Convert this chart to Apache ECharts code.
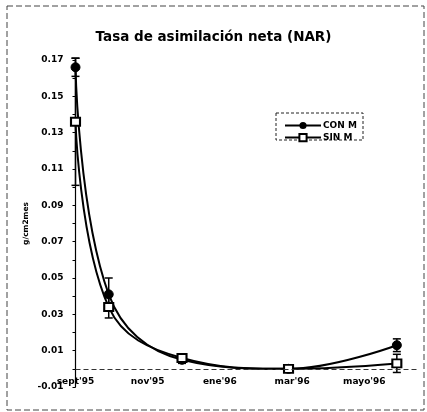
<!DOCTYPE html>
<html>
<head>
<meta charset="utf-8">
<script src="https://cdn.jsdelivr.net/npm/echarts@6/dist/echarts.min.js"></script>
<style>html,body{margin:0;padding:0;background:#fff}#c{width:427px;height:412px}</style>
</head>
<body>
<div id="c"></div>
<script>
// months since sept'95
const months = [0, 0.92, 2.95, 5.9, 8.9];
const conM = [0.166, 0.041, 0.005, 0.0, 0.013];
const conErr = [0.005, 0.009, 0.002, 0.001, 0.0035];
const sinM = [0.136, 0.034, 0.006, 0.0, 0.003];
const sinErr = [0.035, 0.006, 0.002, 0.001, 0.005];
const xTickLabels = {0: "sept'95", 2: "nov'95", 4: "ene'96", 6: "mar'96", 8: "mayo'96"};

const FONT = 'DejaVu Sans, Liberation Sans, Arial, sans-serif';
const chart = echarts.init(document.getElementById('c'), null, {renderer: 'canvas'});

function errSeries(vals, errs, name) {
  return {
    type: 'custom',
    name: name + ' err',
    z: 1,
    data: months.map((m, i) => [m, vals[i] - errs[i], vals[i] + errs[i]]),
    renderItem: function (params, api) {
      const x = api.value(0);
      const lo = api.coord([x, api.value(1)]);
      const hi = api.coord([x, api.value(2)]);
      const w = 4;
      const st = {stroke: '#000', lineWidth: 1.5};
      return {type: 'group', children: [
        {type: 'line', shape: {x1: lo[0], y1: lo[1], x2: hi[0], y2: hi[1]}, style: st},
        {type: 'line', shape: {x1: lo[0] - w, y1: lo[1], x2: lo[0] + w, y2: lo[1]}, style: st},
        {type: 'line', shape: {x1: hi[0] - w, y1: hi[1], x2: hi[0] + w, y2: hi[1]}, style: st}
      ]};
    },
    tooltip: {show: false}
  };
}

chart.setOption({
  animation: false,
  title: {
    text: 'Tasa de asimilación neta (NAR)',
    left: 'center', top: 25,
    textStyle: {fontFamily: FONT, fontSize: 13.5, fontWeight: 'bold', color: '#000'}
  },
  legend: {
    orient: 'vertical', left: 279, top: 116,
    itemWidth: 36, itemHeight: 9, itemGap: 3,
    data: ['CON M', 'SIN M'],
    textStyle: {fontFamily: FONT, fontSize: 9, fontWeight: 'bold', color: '#000', padding: [0,0,0,-3]}
  },
  graphic: [
    {type: 'rect', shape: {x: 7, y: 6, width: 417, height: 404}, style: {fill: 'none', stroke: '#444', lineWidth: 1, lineDash: [6, 3]}, silent: true},
    {type: 'rect', shape: {x: 276, y: 113, width: 87, height: 27}, style: {fill: 'none', stroke: '#222', lineWidth: 1, lineDash: [3, 2]}, silent: true}
  ],
  grid: {left: 75.5, right: 8.5, top: 60, bottom: 25, containLabel: false},
  xAxis: {
    type: 'value', min: 0, max: 9.5, interval: 2,
    splitLine: {show: false},
    axisTick: {show: false},
    axisLine: {show: false, onZero: false},
    axisLabel: {
      margin: -10, fontFamily: FONT, fontSize: 9, fontWeight: 'bold', color: '#000',
      formatter: v => xTickLabels[v] || '', showMaxLabel: false
    }
  },
  yAxis: {
    type: 'value', min: -0.01, max: 0.17, interval: 0.01,
    name: 'g/cm2mes', nameLocation: 'middle', nameGap: 45, nameRotate: 90,
    nameMoveOverlap: false,
    nameTextStyle: {fontFamily: FONT, fontSize: 7.5, fontWeight: 'bold', color: '#000'},
    splitLine: {show: false},
    axisLine: {show: true, lineStyle: {color: '#000', width: 1.2}},
    axisTick: {show: true, length: 3, inside: false, lineStyle: {color: '#000'}},
    axisLabel: {
      margin: 12, fontFamily: FONT, fontSize: 9, fontWeight: 'bold', color: '#000',
      formatter: function (v) {
        const k = Math.round(v * 100);
        return (Math.abs(k) % 2 === 1) ? (k / 100).toFixed(2) : '';
      }
    }
  },
  series: [
    errSeries(sinM, sinErr, 'SIN M'),
    errSeries(conM, conErr, 'CON M'),
    {
      name: 'CON M', type: 'line', smooth: 0.4, z: 3,
      data: months.map((m, i) => [m, conM[i]]),
      symbol: 'circle', symbolSize: 9,
      itemStyle: {color: '#000', borderColor: '#000'},
      lineStyle: {color: '#000', width: 2},
      markLine: {
        silent: true, symbol: 'none', label: {show: false},
        lineStyle: {color: '#333', type: [5, 3], width: 1},
        data: [{yAxis: 0}]
      }
    },
    {
      name: 'SIN M', type: 'line', smooth: 0.4, z: 4,
      data: months.map((m, i) => [m, sinM[i]]),
      symbol: 'rect', symbolSize: [9, 8],
      itemStyle: {color: '#fff', borderColor: '#000', borderWidth: 2},
      lineStyle: {color: '#000', width: 2}
    }
  ]
});
</script>
</body>
</html>
